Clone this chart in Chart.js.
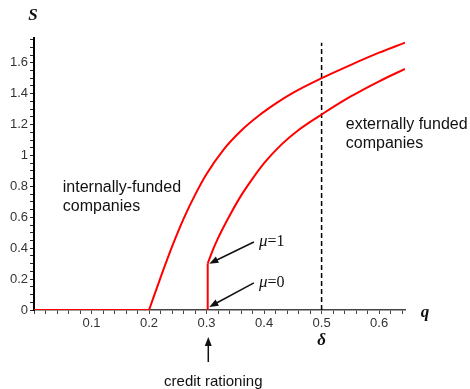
<!DOCTYPE html>
<html>
<head>
<meta charset="utf-8">
<script src="https://cdn.jsdelivr.net/npm/chart.js@4"></script>
<style>
  body { margin: 0; background: #fff; }
  #wrap { width: 470px; height: 389px; }
</style>
</head>
<body>
<div id="wrap"><canvas id="chart" width="470" height="389"></canvas></div>
<script>
// Flat part of the upper curve (S = 0 for small q)
const flatQ = [0, 0.2];
const flatS = [0, 0];

// Upper curve
const upperQ = [0.2, 0.22, 0.24, 0.26, 0.28, 0.3, 0.33, 0.36, 0.39, 0.42, 0.45, 0.5, 0.55, 0.6, 0.645];
const upperS = [0, 0.21, 0.41, 0.59, 0.745, 0.88, 1.04, 1.16, 1.255, 1.335, 1.405, 1.50, 1.585, 1.665, 1.73];

// Jump at the credit rationing point
const jumpQ = [0.302, 0.302];
const jumpS = [0, 0.3];

// Lower curve
const lowerQ = [0.302, 0.31, 0.32, 0.34, 0.36, 0.38, 0.4, 0.43, 0.46, 0.5, 0.55, 0.6, 0.645];
const lowerS = [0.3, 0.38, 0.465, 0.61, 0.74, 0.85, 0.95, 1.07, 1.165, 1.265, 1.38, 1.48, 1.56];

// Vertical dashed line at delta
const deltaQ = [0.5, 0.5];
const deltaS = [0, 1.73];

// Axis ticks
const xMax = 0.645;
const yMax = 1.76;
const xLabels = [0.1, 0.2, 0.3, 0.4, 0.5, 0.6];
const yLabels = [0, 0.2, 0.4, 0.6, 0.8, 1, 1.2, 1.4, 1.6];

// Text notes, anchored in data units
const notes = [
    { q: 0.05, s: 0.79, lines: ['internally-funded', 'companies'] },
    { q: 0.542, s: 1.20, lines: ['externally funded', 'companies'] }
];
const muNotes = [
    { text: '1', q: 0.391, s: 0.44, tipQ: 0.303, tipS: 0.30 },
    { text: '0', q: 0.391, s: 0.175, tipQ: 0.303, tipS: 0.02 }
];

function pts(xs, ys) {
    return xs.map((x, i) => ({ x: x, y: ys[i] }));
}

function arrow(ctx, x1, y1, x2, y2) {
    const a = Math.atan2(y2 - y1, x2 - x1);
    const len = 9, w = 3.5;
    ctx.beginPath();
    ctx.moveTo(x1, y1);
    ctx.lineTo(x2 - Math.cos(a) * len * 0.8, y2 - Math.sin(a) * len * 0.8);
    ctx.stroke();
    ctx.beginPath();
    ctx.moveTo(x2, y2);
    ctx.lineTo(x2 - Math.cos(a) * len - Math.sin(a) * w, y2 - Math.sin(a) * len + Math.cos(a) * w);
    ctx.lineTo(x2 - Math.cos(a) * len + Math.sin(a) * w, y2 - Math.sin(a) * len - Math.cos(a) * w);
    ctx.closePath();
    ctx.fill();
}

const isLabel = (v, list) => list.some(l => Math.abs(l - v) < 1e-6);

const notesPlugin = {
    id: 'notes',
    afterDraw(chart) {
        const ctx = chart.ctx;
        const xs = chart.scales.x, ys = chart.scales.y;
        const area = chart.chartArea;
        ctx.save();
        ctx.fillStyle = '#111';
        ctx.strokeStyle = '#111';
        ctx.lineWidth = 1.5;

        // region labels
        ctx.font = '16px "Liberation Sans", Arial, sans-serif';
        ctx.textAlign = 'left';
        ctx.textBaseline = 'middle';
        notes.forEach(n => {
            const x = xs.getPixelForValue(n.q);
            const y = ys.getPixelForValue(n.s);
            n.lines.forEach((t, i) => ctx.fillText(t, x, y + i * 19));
        });

        // mu labels with arrows
        muNotes.forEach(m => {
            const x = xs.getPixelForValue(m.q);
            const y = ys.getPixelForValue(m.s);
            ctx.font = 'italic 17px "Liberation Serif", "Times New Roman", serif';
            ctx.fillText('\u03bc', x, y);
            const w = ctx.measureText('\u03bc').width;
            ctx.font = '16px "Liberation Serif", "Times New Roman", serif';
            ctx.fillText('=' + m.text, x + w, y);
            arrow(ctx, x - 5, y, xs.getPixelForValue(m.tipQ) + 1, ys.getPixelForValue(m.tipS));
        });

        // credit rationing arrow below the axis
        const cx = xs.getPixelForValue(0.303);
        arrow(ctx, cx, area.bottom + 52, cx, area.bottom + 27);
        ctx.font = '15px "Liberation Sans", Arial, sans-serif';
        ctx.textAlign = 'center';
        ctx.fillText('credit rationing', cx + 5, area.bottom + 72);

        // axis symbols
        ctx.font = 'bold italic 17px "Liberation Serif", "Times New Roman", serif';
        ctx.fillText('S', area.left - 1, 16);
        ctx.fillText('q', area.right + 20, area.bottom + 3);
        ctx.fillText('\u03b4', xs.getPixelForValue(0.5), area.bottom + 31);
        ctx.restore();
    }
};

const lineStyle = { showLine: true, pointRadius: 0, borderColor: '#ff0000', borderWidth: 2, fill: false };

new Chart(document.getElementById('chart'), {
    type: 'scatter',
    data: {
        datasets: [
            { ...lineStyle, data: pts(flatQ, flatS), tension: 0 },
            { ...lineStyle, data: pts(upperQ, upperS), cubicInterpolationMode: 'monotone' },
            { ...lineStyle, data: pts(jumpQ, jumpS), tension: 0 },
            { ...lineStyle, data: pts(lowerQ, lowerS), cubicInterpolationMode: 'monotone' },
            { ...lineStyle, data: pts(deltaQ, deltaS), borderColor: '#000', borderWidth: 1.5, borderDash: [5, 3] }
        ]
    },
    options: {
        responsive: false,
        animation: false,
        layout: { padding: { left: 0, top: 38, right: 65, bottom: 0 } },
        plugins: { legend: { display: false }, tooltip: { enabled: false } },
        scales: {
            x: {
                type: 'linear',
                min: 0,
                max: xMax,
                afterFit: s => { s.height = 79; },
                border: { color: '#444', width: 1.5 },
                grid: { drawOnChartArea: false, drawTicks: true, tickLength: 4, tickColor: '#444' },
                ticks: {
                    stepSize: 0.02,
                    includeBounds: false,
                    autoSkip: false,
                    maxRotation: 0,
                    padding: 2,
                    color: '#333',
                    font: { family: '"Liberation Sans", Arial, sans-serif', size: 13 },
                    callback: v => isLabel(v, xLabels) ? String(Math.round(v * 10) / 10) : ''
                }
            },
            y: {
                type: 'linear',
                min: 0,
                max: yMax,
                afterFit: s => { s.width = 34; },
                border: { color: '#000', width: 2 },
                grid: { drawOnChartArea: false, drawTicks: true, tickLength: 4, tickColor: '#222' },
                ticks: {
                    stepSize: 0.05,
                    includeBounds: false,
                    autoSkip: false,
                    padding: 2,
                    color: '#333',
                    font: { family: '"Liberation Sans", Arial, sans-serif', size: 13 },
                    callback: v => isLabel(v, yLabels) ? String(Math.round(v * 10) / 10) : ''
                }
            }
        }
    },
    plugins: [notesPlugin]
});
</script>
</body>
</html>
